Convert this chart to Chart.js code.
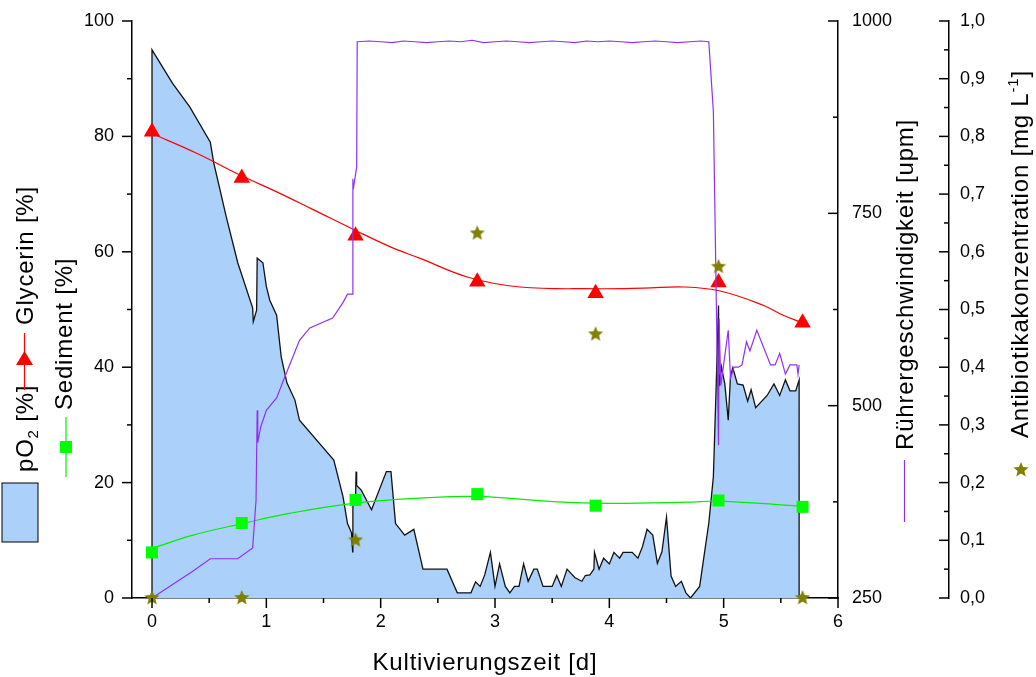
<!DOCTYPE html>
<html>
<head>
<meta charset="utf-8">
<title>Kultivierung</title>
<script src="https://cdn.jsdelivr.net/npm/chart.js@4.4.1/dist/chart.umd.min.js"></script>
<style>
  body { margin: 0; background: #fff; }
  #wrap { width: 1036px; height: 677px; }
</style>
</head>
<body>
<div id="wrap"><canvas id="chart" width="1036" height="677"></canvas></div>
<script>
// ---------- Daten ----------
// Probenahmezeitpunkte [d]
const sampleT = [0, 0.785, 1.78, 2.845, 3.88, 4.955, 5.69];
const glycerin = [80.8, 72.8, 62.8, 54.8, 52.8, 54.7, 47.7];
const sediment = [7.9, 13.0, 17.0, 18.0, 16.0, 16.9, 15.8];
const antibiotika = [0, 0, 0.10, 0.632, 0.457, 0.574, 0];

// Ausgleichskurven
const glycFitT = [0, 0.4, 0.77, 1.1, 1.4, 1.78, 2.08, 2.34, 2.78, 3.22, 3.88, 4.3, 4.66, 4.97, 5.35, 5.52, 5.69];
const glycFitV = [80.5, 77, 73.3, 70.3, 67.4, 63.7, 60.9, 58.9, 55.5, 53.9, 53.6, 53.7, 53.9, 53.2, 50.7, 49.0, 47.7];
const sedFitT = [0, 0.36, 0.79, 1.21, 1.76, 2.34, 2.84, 3.51, 3.98, 4.68, 4.96, 5.69];
const sedFitV = [8.6, 10.9, 12.9, 14.7, 16.4, 17.3, 17.6, 16.7, 16.4, 16.6, 16.8, 15.9];

// pO2 [%]
const po2T = [0, 0, 0.18, 0.33, 0.51, 0.54, 0.65, 0.75, 0.88, 0.886, 0.915, 0.92, 0.97, 1.00, 1.03, 1.09,
  1.13, 1.18, 1.25, 1.29, 1.59, 1.67, 1.71, 1.745, 1.755, 1.757, 1.78, 1.785, 1.79, 1.83, 1.92, 2.05, 2.09,
  2.13, 2.21, 2.29, 2.37, 2.58, 2.67, 2.79, 2.83, 2.87, 2.91, 2.96, 3.00, 3.04, 3.09, 3.13, 3.17, 3.21,
  3.25, 3.29, 3.34, 3.37, 3.42, 3.50, 3.54, 3.58, 3.63, 3.70, 3.76, 3.79, 3.83, 3.865, 3.87, 3.91, 3.95,
  4.00, 4.04, 4.09, 4.12, 4.20, 4.25, 4.29, 4.33, 4.38, 4.42, 4.46, 4.50, 4.54, 4.58, 4.63, 4.67, 4.71,
  4.79, 4.87, 4.91, 4.93, 4.955, 4.96, 4.98, 5.01, 5.04, 5.06, 5.08, 5.12, 5.17, 5.21, 5.24, 5.28, 5.38,
  5.44, 5.49, 5.54, 5.58, 5.63, 5.66, 5.66];
const po2V = [0, 95, 89.2, 85.1, 79.0, 75.4, 66.0, 58.1, 50.3, 47.9, 49.9, 58.9, 58.1, 54.0, 51.6, 49.0,
  41.8, 37.3, 34.3, 30.8, 23.9, 17.6, 12.9, 11.3, 8.0, 15.8, 17.0, 21.9, 19.5, 18.7, 15.3, 21.9, 21.9,
  12.9, 10.9, 11.9, 5.0, 5.0, 0.9, 0.9, 2.8, 2.0, 4.0, 7.9, 2.0, 5.9, 2.0, 0.9, 2.0, 2.0,
  5.9, 2.9, 5.0, 5.0, 2.0, 2.0, 3.9, 2.0, 5.0, 3.5, 2.9, 3.9, 4.0, 5.0, 7.9, 5.0, 6.9,
  5.9, 7.9, 6.9, 7.9, 7.9, 6.9, 8.9, 11.9, 10.9, 6.0, 8.0, 14.0, 3.8, 2.0, 2.9, 0.9, 0,
  2.0, 13.0, 21.0, 33.8, 50.7, 36.7, 40.1, 37.1, 30.8, 38.5, 39.9, 37.1, 36.9, 34.1, 36.1, 33.0, 35.1,
  37.1, 35.1, 37.8, 35.9, 35.9, 37.8, 0];

// Rührergeschwindigkeit [upm]
const stirT = [0, 0.35, 0.51, 0.75, 0.88, 0.91, 0.92, 0.925, 0.95, 1.00, 1.09, 1.15, 1.29, 1.38, 1.58, 1.67,
  1.71, 1.757, 1.757, 1.76, 1.79, 1.795,
  1.9, 2.0, 2.1, 2.2, 2.3, 2.4, 2.5, 2.6, 2.7, 2.8, 2.9, 3.0, 3.1, 3.2, 3.3, 3.4, 3.5, 3.6, 3.7, 3.8,
  3.9, 4.0, 4.1, 4.2, 4.3, 4.4, 4.5, 4.6, 4.7, 4.8, 4.87,
  4.91, 4.955, 4.96, 4.975, 5.04, 5.06, 5.09, 5.13, 5.16, 5.20, 5.23, 5.29, 5.41, 5.45, 5.49, 5.54, 5.58,
  5.64, 5.65, 5.66];
const stirV = [250, 284, 301, 301, 315, 377, 494, 452, 472, 494, 510, 533, 585, 601, 614, 634,
  645, 645, 795, 781, 810, 973,
  974, 973, 972, 974, 973, 972, 973, 974, 973, 975, 972, 973, 974, 973, 972, 973, 974, 973, 972, 974,
  973, 974, 973, 972, 973, 974, 973, 972, 973, 974, 973,
  882, 449, 613, 526, 598, 536, 550, 550, 553, 583, 571, 598, 553, 553, 568, 541, 553,
  553, 541, 553];

// Achsenteilung
const xTicks = [0, 1, 2, 3, 4, 5, 6];
const xMinor = [0.5, 1.5, 2.5, 3.5, 4.5, 5.5];
const yTicks = [0, 20, 40, 60, 80, 100];
const yMinor = [10, 30, 50, 70, 90];
const yrTicks = [250, 500, 750, 1000];
const yrMinor = [375, 625, 875];
const yaTicks = [0, 0.1, 0.2, 0.3, 0.4, 0.5, 0.6, 0.7, 0.8, 0.9, 1.0];
const yaMinor = [0.05, 0.15, 0.25, 0.35, 0.45, 0.55, 0.65, 0.75, 0.85, 0.95];

// ---------- Farben / Helfer ----------
const BLUE_FILL = '#abd1fb';
const RED = '#ff0000';
const GREEN = '#00ee00';
const PURPLE = '#9130f5';
const OLIVE = '#808000';
const FONT = 'Liberation Sans, Arial, sans-serif';
const TITLE_SIZE = 24;

const pairs = (ts, vs) => ts.map((t, i) => ({ x: t, y: vs[i] }));

function makeStar(r, color) {
  const c = document.createElement('canvas');
  c.width = c.height = 2 * r + 2;
  const g = c.getContext('2d');
  g.fillStyle = color;
  g.beginPath();
  for (let i = 0; i < 10; i++) {
    const a = -Math.PI / 2 + i * Math.PI / 5;
    const rr = i % 2 ? r * 0.45 : r;
    g.lineTo(r + 1 + rr * Math.cos(a), r + 1 + rr * Math.sin(a));
  }
  g.closePath();
  g.fill();
  return c;
}
const starImg = makeStar(8, OLIVE);

// Text senkrecht (von unten nach oben), Teile mit Hoch-/Tiefstellung
function vtext(ctx, parts, x, y) {
  ctx.save();
  ctx.translate(x, y);
  ctx.rotate(-Math.PI / 2);
  ctx.textAlign = 'left';
  ctx.textBaseline = 'alphabetic';
  ctx.fillStyle = '#000';
  ctx.letterSpacing = '0.8px';
  let pos = 0;
  parts.forEach(p => {
    ctx.font = (p.size || TITLE_SIZE) + 'px ' + FONT;
    ctx.fillText(p.t, pos, p.dy || 0);
    pos += ctx.measureText(p.t).width;
  });
  ctx.restore();
}

// ---------- Plugin: Teilstriche, Achsentitel, Legenden ----------
const decor = {
  id: 'decor',
  afterDraw(chart) {
    const ctx = chart.ctx;
    const { x, y, yr, ya } = chart.scales;
    ctx.save();
    ctx.strokeStyle = '#000';
    ctx.lineWidth = 1.5;
    const line = (x1, y1, x2, y2) => { ctx.beginPath(); ctx.moveTo(x1, y1); ctx.lineTo(x2, y2); ctx.stroke(); };

    xTicks.forEach(v => { const p = x.getPixelForValue(v); line(p, x.top, p, x.top + 10); });
    xMinor.forEach(v => { const p = x.getPixelForValue(v); line(p, x.top, p, x.top + 5); });
    yTicks.forEach(v => { const p = y.getPixelForValue(v); line(y.right - 10, p, y.right, p); });
    yMinor.forEach(v => { const p = y.getPixelForValue(v); line(y.right - 5, p, y.right, p); });
    yrTicks.forEach(v => { const p = yr.getPixelForValue(v); line(yr.left - 10, p, yr.left, p); });
    yrMinor.forEach(v => { const p = yr.getPixelForValue(v); line(yr.left - 5, p, yr.left, p); });
    yaTicks.forEach(v => { const p = ya.getPixelForValue(v); line(ya.left - 10, p, ya.left, p); });
    yaMinor.forEach(v => { const p = ya.getPixelForValue(v); line(ya.left - 5, p, ya.left, p); });

    // x-Achsentitel
    ctx.save();
    ctx.fillStyle = '#000';
    ctx.font = TITLE_SIZE + 'px ' + FONT;
    ctx.letterSpacing = '0.8px';
    ctx.textAlign = 'center';
    ctx.textBaseline = 'alphabetic';
    ctx.fillText('Kultivierungszeit [d]', 485, 670);
    ctx.restore();

    // linke Legende, Spalte 1: pO2 und Glycerin
    ctx.fillStyle = BLUE_FILL;
    ctx.fillRect(2, 483, 36, 59);
    ctx.lineWidth = 1;
    ctx.strokeStyle = '#000';
    ctx.strokeRect(2, 483, 36, 59);
    vtext(ctx, [{ t: 'pO' }, { t: '2', size: 15, dy: 5 }, { t: ' [%]' }], 33, 472);
    ctx.strokeStyle = RED;
    ctx.lineWidth = 1.2;
    line(24.5, 390, 24.5, 333);
    ctx.fillStyle = RED;
    ctx.beginPath();
    ctx.moveTo(24.5, 351); ctx.lineTo(33, 365); ctx.lineTo(16, 365); ctx.closePath(); ctx.fill();
    vtext(ctx, [{ t: 'Glycerin [%]' }], 33, 325);

    // Spalte 2: Sediment
    ctx.strokeStyle = GREEN;
    line(66, 477, 66, 417);
    ctx.fillStyle = '#00ff00';
    ctx.fillRect(60, 441, 12, 12);
    vtext(ctx, [{ t: 'Sediment [%]' }], 72, 410);

    // rechte Achsentitel
    ctx.strokeStyle = PURPLE;
    line(904.5, 460, 904.5, 522);
    vtext(ctx, [{ t: 'Rührergeschwindigkeit [upm]' }], 913, 450);
    ctx.drawImage(starImg, 1021 - starImg.width / 2, 470 - starImg.height / 2);
    vtext(ctx, [{ t: 'Antibiotikakonzentration [mg L' }, { t: '-1', size: 15, dy: -10 }, { t: ']' }], 1028, 438);
    ctx.restore();
  }
};

// ---------- Achsen ----------
const tickFont = { family: FONT, size: 18 };
const axisBase = {
  grid: { display: true, drawOnChartArea: false, drawTicks: false },
  border: { display: true, color: '#000', width: 1.5 }
};
// feste Breite, keine zusätzliche Randabstände durch Beschriftung
const fixWidth = w => s => { s.width = w; s.paddingTop = 0; s.paddingBottom = 0; };

new Chart(document.getElementById('chart'), {
  type: 'line',
  data: {
    datasets: [
      {
        label: 'pO2 [%]',
        data: pairs(po2T, po2V),
        yAxisID: 'y',
        fill: 'origin',
        backgroundColor: BLUE_FILL,
        borderColor: '#111',
        borderWidth: 1.3,
        pointRadius: 0,
        tension: 0,
        order: 10
      },
      {
        label: 'Sediment Fit',
        data: pairs(sedFitT, sedFitV),
        yAxisID: 'y',
        borderColor: GREEN,
        borderWidth: 1.2,
        pointRadius: 0,
        tension: 0.4,
        order: 6
      },
      {
        label: 'Glycerin Fit',
        data: pairs(glycFitT, glycFitV),
        yAxisID: 'y',
        borderColor: RED,
        borderWidth: 1.2,
        pointRadius: 0,
        tension: 0.4,
        order: 5
      },
      {
        label: 'Sediment [%]',
        data: pairs(sampleT, sediment),
        yAxisID: 'y',
        showLine: false,
        pointStyle: 'rect',
        pointRadius: 8.5,
        pointBackgroundColor: '#00ff00',
        pointBorderWidth: 0,
        clip: false,
        order: 4
      },
      {
        label: 'Glycerin [%]',
        data: pairs(sampleT, glycerin),
        yAxisID: 'y',
        showLine: false,
        pointStyle: 'triangle',
        pointRadius: 9.5,
        pointBackgroundColor: RED,
        pointBorderColor: RED,
        pointBorderWidth: 0,
        clip: false,
        order: 3
      },
      {
        label: 'Rührergeschwindigkeit [upm]',
        data: pairs(stirT, stirV),
        yAxisID: 'yr',
        borderColor: PURPLE,
        borderWidth: 1.2,
        pointRadius: 0,
        tension: 0,
        order: 2
      },
      {
        label: 'Antibiotikakonzentration',
        data: pairs(sampleT, antibiotika),
        yAxisID: 'ya',
        showLine: false,
        pointStyle: starImg,
        pointRadius: 8,
        clip: false,
        order: 1
      }
    ]
  },
  options: {
    responsive: false,
    animation: false,
    layout: { padding: { top: 21, left: 0, right: 0, bottom: 0 } },
    plugins: { legend: { display: false }, tooltip: { enabled: false } },
    scales: {
      x: {
        ...axisBase,
        type: 'linear',
        position: 'bottom',
        min: -0.175,
        max: 6,
        afterBuildTicks: s => { s.ticks = xTicks.map(v => ({ value: v })); },
        afterFit: s => { s.height = 79; },
        ticks: { font: tickFont, color: '#000', padding: 13, maxRotation: 0, autoSkip: false }
      },
      y: {
        ...axisBase,
        type: 'linear',
        position: 'left',
        min: 0,
        max: 100,
        afterBuildTicks: s => { s.ticks = yTicks.map(v => ({ value: v })); },
        afterFit: fixWidth(132),
        ticks: { font: tickFont, color: '#000', padding: 18, autoSkip: false }
      },
      yr: {
        ...axisBase,
        type: 'linear',
        position: 'right',
        weight: 0,
        min: 250,
        max: 1000,
        afterBuildTicks: s => { s.ticks = yrTicks.map(v => ({ value: v })); },
        afterFit: fixWidth(111),
        ticks: { font: tickFont, color: '#000', padding: 14, autoSkip: false, callback: v => String(v) }
      },
      ya: {
        ...axisBase,
        type: 'linear',
        position: 'right',
        weight: 1,
        min: 0,
        max: 1,
        afterBuildTicks: s => { s.ticks = yaTicks.map(v => ({ value: v })); },
        afterFit: fixWidth(87),
        ticks: {
          font: tickFont, color: '#000', padding: 11, autoSkip: false,
          callback: v => v.toFixed(1).replace('.', ',')
        }
      }
    }
  },
  plugins: [decor]
});
</script>
</body>
</html>
